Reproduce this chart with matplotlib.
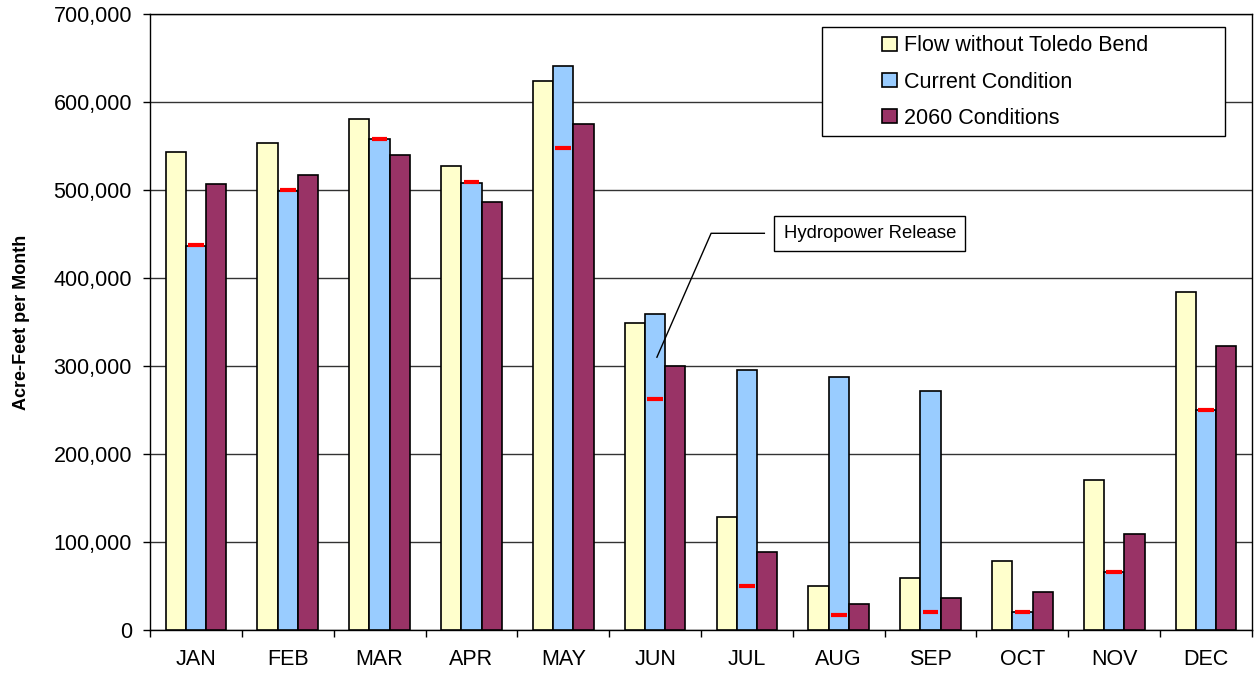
import matplotlib
matplotlib.use("Agg")
import matplotlib.pyplot as plt
import numpy as np
from matplotlib.patches import Rectangle
from matplotlib.ticker import FuncFormatter, FixedLocator, NullFormatter

plt.rcParams["font.family"] = ["Liberation Sans", "DejaVu Sans"]

months = ["JAN", "FEB", "MAR", "APR", "MAY", "JUN", "JUL", "AUG", "SEP", "OCT", "NOV", "DEC"]
flow_without_tb = [543000, 553000, 581000, 527000, 624000, 349000, 128000, 50000, 59000, 78000, 171000, 384000]
current_cond = [436000, 499000, 558000, 508000, 641000, 359000, 296000, 288000, 272000, 20000, 66000, 250000]
cond_2060 = [507000, 517000, 540000, 486000, 575000, 300000, 89000, 30000, 36000, 43000, 109000, 323000]
hydro_release = [437000, 500000, 558000, 509000, 548000, 262000, 50000, 17000, 20000, 21000, 66000, 250000]

series_labels = ["Flow without Toledo Bend", "Current Condition", "2060 Conditions"]
colors = ["#FFFFCC", "#99CCFF", "#993366"]


def setup_plot():
    fig = plt.figure(figsize=(12.55, 6.77), dpi=100)
    ax = fig.add_axes([150 / 1255, 1 - 630 / 677, 1102 / 1255, 616 / 677])

    x = np.arange(len(months))
    width = 0.22
    data = [flow_without_tb, current_cond, cond_2060]
    for i, (vals, lab, col) in enumerate(zip(data, series_labels, colors)):
        ax.bar(x + (i - 1) * width, vals, width, color=col, edgecolor="black",
               linewidth=1.2, label=lab, zorder=3)

    # hydropower release markers on the current-condition bars
    ax.hlines(hydro_release, x - 0.085, x + 0.085, colors="red", linewidth=3.0, zorder=4)

    ax.set_xlim(-0.5, len(months) - 0.5)
    ax.set_ylim(0, 700000)
    ax.yaxis.set_major_locator(FixedLocator(np.arange(0, 700001, 100000)))
    ax.yaxis.set_major_formatter(FuncFormatter(lambda v, p: f"{int(v):,}"))
    ax.yaxis.grid(True, color="#333333", linewidth=1.0, zorder=0)

    ax.xaxis.set_major_locator(FixedLocator(np.arange(-0.5, len(months), 1.0)))
    ax.xaxis.set_major_formatter(NullFormatter())
    ax.xaxis.set_minor_locator(FixedLocator(x))
    ax.set_xticklabels(months, minor=True)
    ax.tick_params(axis="x", which="major", length=5, width=1, direction="out")
    ax.tick_params(axis="x", which="minor", length=0, labelsize=15.5, pad=14)
    ax.tick_params(axis="y", length=5, width=1, labelsize=15.5, pad=8)

    for s in ax.spines.values():
        s.set_linewidth(1.0)
        s.set_color("black")

    ax.set_ylabel("Acre-Feet per Month", fontsize=13, fontweight="bold", labelpad=17)

    # legend frame (wider than its content, as in the original)
    ax.add_patch(Rectangle((0.610, 0.802), 0.3655, 0.177, transform=ax.transAxes,
                           facecolor="white", edgecolor="black", linewidth=1.0, zorder=5))
    leg = ax.legend(loc="center", bbox_to_anchor=(0.785, 0.8895), borderaxespad=0,
                    fontsize=15.5, frameon=False, handlelength=0.7, handleheight=0.6,
                    handletextpad=0.3, labelspacing=0.71, borderpad=0.3)
    leg.set_zorder(6)

    # annotation for the hydropower release marker
    ax.plot([5.02, 5.61, 6.19], [310000, 450800, 450800], color="black", linewidth=1.0, zorder=5)
    ax.text(6.40, 450500, "Hydropower Release", fontsize=13.3, ha="left", va="center",
            bbox=dict(boxstyle="square,pad=0.5", facecolor="white", edgecolor="black",
                      linewidth=1.0), zorder=6)
    return fig


fig = setup_plot()
fig.savefig("out.png", dpi=100)
